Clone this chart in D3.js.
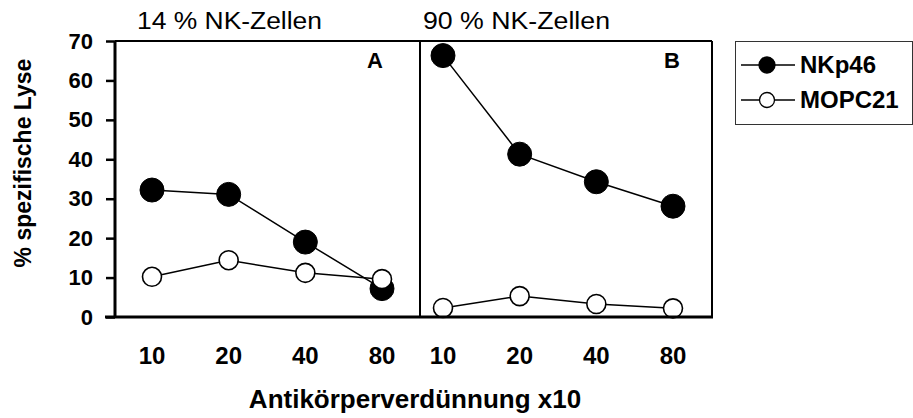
<!DOCTYPE html>
<html>
<head>
<meta charset="utf-8">
<script src="https://cdn.jsdelivr.net/npm/d3@7"></script>
<style>
  body { margin: 0; background: #fff; }
  text { font-family: "Liberation Sans", Arial, sans-serif; fill: #000; }
</style>
</head>
<body>
<div id="chart"></div>
<script>
// data
const dilutions = ["10", "20", "40", "80"];
const panelNames = ["A", "B"];
const panelTitles = ["14 % NK-Zellen", "90 % NK-Zellen"];
const seriesNames = ["NKp46", "MOPC21"];
const nkp46A = [32.2, 31.1, 19.0, 7.2];
const mopc21A = [10.2, 14.4, 11.2, 9.6];
const nkp46B = [66.3, 41.3, 34.3, 28.1];
const mopc21B = [2.3, 5.3, 3.3, 2.2];
const yTicks = [0, 10, 20, 30, 40, 50, 60, 70];

const width = 913, height = 418;
const plotTop = 41, plotBottom = 317;
const axisX = 115;

// panel frames and point ranges
const panels = [
    { name: panelNames[0], title: panelTitles[0], left: axisX, right: 420, range: [152, 382],
      titleX: 137, titleLen: 185, labelX: 375, series: [nkp46A, mopc21A] },
    { name: panelNames[1], title: panelTitles[1], left: 420, right: 712, range: [443, 673],
      titleX: 423, titleLen: 187, labelX: 672, series: [nkp46B, mopc21B] }
];

const y = d3.scaleLinear().domain([0, 70]).range([plotBottom, plotTop]);

const svg = d3.select("#chart").append("svg")
    .attr("width", width)
    .attr("height", height);

// marker styles per series
const markers = [
    { r: 12, fill: "#000", stroke: "#000", sw: 1 },
    { r: 9.5, fill: "#fff", stroke: "#000", sw: 1.6 }
];

panels.forEach(function(p) {
    const x = d3.scalePoint().domain(dilutions).range(p.range);
    const g = svg.append("g");

    // frame: top, right
    g.append("line")
        .attr("x1", p.left).attr("x2", p.right)
        .attr("y1", plotTop).attr("y2", plotTop)
        .attr("stroke", "#000").attr("stroke-width", 2);
    g.append("line")
        .attr("x1", p.right).attr("x2", p.right)
        .attr("y1", plotTop).attr("y2", plotBottom)
        .attr("stroke", "#000").attr("stroke-width", 2);

    // title
    g.append("text")
        .attr("x", p.titleX).attr("y", 29)
        .attr("font-size", 23)
        .attr("textLength", p.titleLen)
        .attr("lengthAdjust", "spacingAndGlyphs")
        .text(p.title);

    // panel letter
    g.append("text")
        .attr("x", p.labelX).attr("y", 68)
        .attr("text-anchor", "middle")
        .attr("font-size", 22).attr("font-weight", "bold")
        .text(p.name);

    // x tick labels
    g.selectAll(".xt").data(dilutions).enter().append("text")
        .attr("x", function(d) { return x(d); })
        .attr("y", 364)
        .attr("text-anchor", "middle")
        .attr("font-size", 24).attr("font-weight", "bold")
        .text(function(d) { return d; });

    const line = d3.line()
        .x(function(d, i) { return x(dilutions[i]); })
        .y(function(d) { return y(d); });

    p.series.forEach(function(vals, si) {
        const m = markers[si];
        g.append("path")
            .datum(vals)
            .attr("d", line)
            .attr("fill", "none")
            .attr("stroke", "#000")
            .attr("stroke-width", 1.5);
        g.selectAll(".pt" + si).data(vals).enter().append("circle")
            .attr("cx", function(d, i) { return x(dilutions[i]); })
            .attr("cy", function(d) { return y(d); })
            .attr("r", m.r)
            .attr("fill", m.fill)
            .attr("stroke", m.stroke)
            .attr("stroke-width", m.sw);
    });
});

// y axis
const yAxis = d3.axisLeft(y).tickValues(yTicks).tickSize(9).tickPadding(13);
const ya = svg.append("g")
    .attr("transform", "translate(" + axisX + ",0)")
    .call(yAxis);
ya.select(".domain").remove();
ya.selectAll(".tick line").attr("stroke-width", 2.5);
ya.selectAll(".tick text")
    .attr("font-size", 22).attr("font-weight", "bold")
    .attr("font-family", "Liberation Sans, Arial, sans-serif");
ya.append("line")
    .attr("x1", 0).attr("x2", 0)
    .attr("y1", plotTop).attr("y2", plotBottom)
    .attr("stroke", "#000").attr("stroke-width", 3);

// bottom axis line
svg.append("line")
    .attr("x1", axisX - 10).attr("x2", 713)
    .attr("y1", plotBottom).attr("y2", plotBottom)
    .attr("stroke", "#000").attr("stroke-width", 3);

// axis titles
svg.append("text")
    .attr("x", 415).attr("y", 408)
    .attr("text-anchor", "middle")
    .attr("font-size", 26).attr("font-weight", "bold")
    .text("Antikörperverdünnung x10");

svg.append("text")
    .attr("transform", "translate(31,163) rotate(-90)")
    .attr("text-anchor", "middle")
    .attr("font-size", 23).attr("font-weight", "bold")
    .text("% spezifische Lyse");

// legend
const lg = svg.append("g");
lg.append("rect")
    .attr("x", 735.5).attr("y", 41.5)
    .attr("width", 177).attr("height", 83)
    .attr("fill", "#fff").attr("stroke", "#333").attr("stroke-width", 1);
const legMarkers = [
    { r: 8, fill: "#000" },
    { r: 7.5, fill: "#fff" }
];
seriesNames.forEach(function(name, i) {
    const ly = 65 + i * 35;
    lg.append("line")
        .attr("x1", 741).attr("x2", 795)
        .attr("y1", ly).attr("y2", ly)
        .attr("stroke", "#000").attr("stroke-width", 1.5);
    lg.append("circle")
        .attr("cx", 767).attr("cy", ly).attr("r", legMarkers[i].r)
        .attr("fill", legMarkers[i].fill)
        .attr("stroke", "#000").attr("stroke-width", 1.3);
    lg.append("text")
        .attr("x", 800).attr("y", ly + 8)
        .attr("font-size", 24).attr("font-weight", "bold")
        .text(name);
});
</script>
</body>
</html>
